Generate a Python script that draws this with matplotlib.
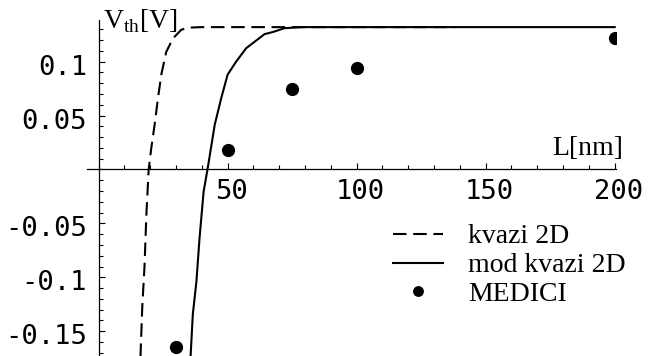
import matplotlib
matplotlib.use('Agg')
import matplotlib.pyplot as plt
import matplotlib.transforms as mtransforms
from matplotlib.ticker import MultipleLocator, FixedLocator

plt.rcParams['mathtext.fontset'] = 'custom'
plt.rcParams['mathtext.rm'] = 'Liberation Serif'

# kvazi 2D (dashed)
kv_x = [16.2, 16.9, 17.8, 18.5, 19.4, 20.4, 21.7, 23.0, 24.3, 26.2, 28.8, 32.0, 34.6, 40.0, 138.0]
kv_y = [-0.175, -0.1285, -0.089, -0.0425, 0.0, 0.0197, 0.0415, 0.066, 0.088, 0.109, 0.1215, 0.1295, 0.1315, 0.132, 0.132]

# mod kvazi 2D (solid)
mod_x = [35.6, 36.5, 37.9, 39.1, 40.7, 42.2, 45.0, 47.5, 50.0, 53.3, 57.2, 60.5, 64.3, 67.6, 72.0, 79.0, 200.0]
mod_y = [-0.175, -0.1345, -0.104, -0.064, -0.0203, 0.0, 0.0415, 0.066, 0.088, 0.100, 0.1125, 0.1185, 0.1255, 0.1275, 0.131, 0.132, 0.132]

# MEDICI points
med_x = [30, 50, 75, 100, 200]
med_y = [-0.165, 0.018, 0.0745, 0.094, 0.122]

xticks = [50, 100, 150, 200]
yticks = [-0.15, -0.1, -0.05, 0.05, 0.1]
ytick_labels = ['-0.15', '-0.1', '-0.05', '0.05', '0.1']

fig = plt.figure(figsize=(6.5, 3.56), dpi=100)
ax = fig.add_axes([87 / 650, 0.0, (616 - 87) / 650, (356 - 20) / 356])

ax.plot(kv_x, kv_y, color='black', lw=1.5, dashes=(6.5, 3.2), label='kvazi 2D')
ax.plot(mod_x, mod_y, color='black', lw=1.5, label='mod kvazi 2D')
ax.plot(med_x, med_y, 'o', color='black', ms=8.5, label='MEDICI')

ax.set_xlim(-4.5, 200.5)
ax.set_ylim(-0.173, 0.1386)

for side in ['top', 'right']:
    ax.spines[side].set_visible(False)
for side in ['left', 'bottom']:
    ax.spines[side].set_position(('data', 0))
    ax.spines[side].set_linewidth(0.9)

ax.xaxis.set_major_locator(FixedLocator(xticks))
ax.xaxis.set_minor_locator(MultipleLocator(10))
ax.yaxis.set_major_locator(FixedLocator(yticks))
ax.yaxis.set_minor_locator(MultipleLocator(0.01))
ax.set_xticklabels([str(v) for v in xticks])
ax.set_yticklabels(ytick_labels)
ax.tick_params(which='major', direction='in', length=4, width=0.8, pad=7)
ax.tick_params(which='minor', direction='in', length=3, width=0.8)

for lab in ax.get_xticklabels() + ax.get_yticklabels():
    lab.set_family('DejaVu Sans Mono')
    lab.set_fontsize(19.5)

# small shifts like the original
dx = mtransforms.ScaledTranslation(4 / 100, 0, fig.dpi_scale_trans)
for lab in ax.get_xticklabels():
    lab.set_transform(lab.get_transform() + dx)
dy = mtransforms.ScaledTranslation(-2 / 100, -3 / 100, fig.dpi_scale_trans)
for lab in ax.get_yticklabels():
    lab.set_transform(lab.get_transform() + dy)

fig.text(103 / 650, 1 - 28 / 356, r'V$_{\mathrm{th}}$[V]', family='Liberation Serif',
         fontsize=20, ha='left', va='baseline')
fig.text(623 / 650, 1 - 155 / 356, 'L[nm]', family='Liberation Serif',
         fontsize=20, ha='right', va='baseline')

ax.legend(loc='upper left', bbox_to_anchor=(393 / 650, 1 - 224 / 356),
          bbox_transform=fig.transFigure, frameon=False,
          prop={'family': 'Liberation Serif', 'size': 20},
          handlelength=1.8, handletextpad=0.9, labelspacing=0.12,
          markerscale=0.8, borderpad=0, borderaxespad=0)

fig.savefig('out.png', dpi=100)
